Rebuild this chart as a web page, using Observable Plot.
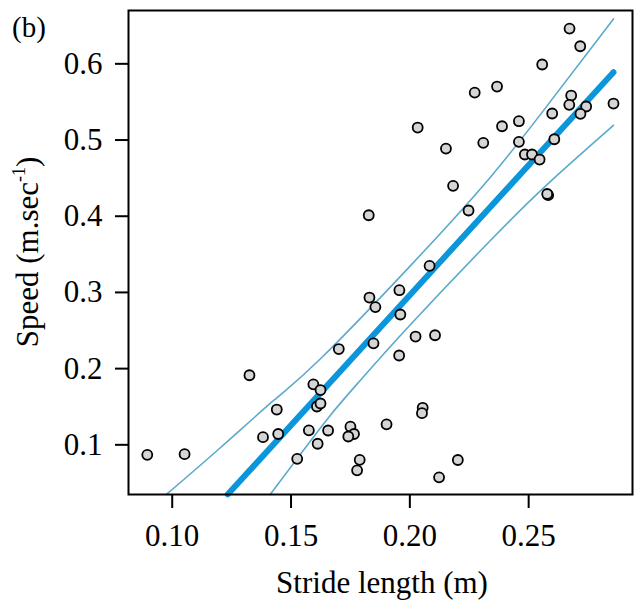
<!DOCTYPE html>
<html>
<head>
<meta charset="utf-8">
<script src="https://cdn.jsdelivr.net/npm/d3@7"></script>
<script src="https://cdn.jsdelivr.net/npm/@observablehq/plot@0.6"></script>
<style>
  html, body { margin: 0; padding: 0; background: #fff; }
  svg { display: block; }
</style>
</head>
<body>
<div id="chart"></div>
<script>
// Observed points
const stride = [0.0895,0.1052,0.1325,0.1440,0.1382,0.1446,0.1526,0.1575,0.1594,0.1624,
  0.1609,0.1624,0.1612,0.1656,0.1701,0.1750,0.1765,0.1741,0.1789,0.1778,
  0.1847,0.1855,0.1830,0.1827,0.1956,0.1960,0.1955,0.1902,0.2024,0.2106,
  0.2054,0.2051,0.2123,0.2202,0.2083,0.2182,0.2247,0.2033,0.2152,0.2273,
  0.2367,0.2309,0.2388,0.2459,0.2459,0.2484,0.2514,0.2546,0.2582,0.2578,
  0.2608,0.2599,0.2557,0.2672,0.2717,0.2679,0.2671,0.2742,0.2718,0.2857];
const speed = [0.0869,0.0877,0.1913,0.1463,0.1100,0.1142,0.0816,0.1190,0.1794,0.1719,
  0.1503,0.1542,0.1014,0.1188,0.2257,0.1238,0.1142,0.1109,0.0803,0.0665,
  0.2332,0.2808,0.2933,0.4013,0.3029,0.2710,0.2172,0.1269,0.2421,0.2438,
  0.1486,0.1415,0.0573,0.0801,0.3349,0.4399,0.4075,0.5164,0.4888,0.5623,
  0.5702,0.4963,0.5181,0.5247,0.4976,0.4810,0.4810,0.4744,0.4276,0.4292,
  0.5010,0.5348,0.5991,0.6463,0.6231,0.5584,0.5462,0.5440,0.5344,0.5479];

// Fitted line
const fitX = [0.1234, 0.2857];
const fitY = [0.035, 0.589];

// Confidence curves
const upperX = [0.0976, 0.1200, 0.1427, 0.1624, 0.2002, 0.2339, 0.2591, 0.2857];
const upperY = [0.035, 0.0955, 0.1582, 0.2129, 0.3349, 0.4512, 0.5504, 0.6590];
const lowerX = [0.1413, 0.1540, 0.1665, 0.1791, 0.2002, 0.2339, 0.2591, 0.2857];
const lowerY = [0.035, 0.0878, 0.1386, 0.1844, 0.2575, 0.3682, 0.4454, 0.5193];

// Axis ticks
const xTicks = [0.10, 0.15, 0.20, 0.25];
const yTicks = [0.1, 0.2, 0.3, 0.4, 0.5, 0.6];

const pts = stride.map((s, i) => ({x: s, y: speed[i]}));
const fit = fitX.map((x, i) => ({x, y: fitY[i]}));
const upper = upperX.map((x, i) => ({x, y: upperY[i]}));
const lower = lowerX.map((x, i) => ({x, y: lowerY[i]}));

const FONT = "'Liberation Serif', 'Times New Roman', serif";
const FS = 31;

const svg = Plot.plot({
  width: 634,
  height: 613,
  marginLeft: 128,
  marginRight: 2,
  marginTop: 10,
  marginBottom: 119,
  style: {fontFamily: FONT, background: "white", color: "black"},
  x: {domain: [0.0816, 0.2937], ticks: xTicks, tickFormat: d3.format(".2f")},
  y: {domain: [0.0348, 0.670], ticks: yTicks, tickFormat: d3.format(".1f")},
  marks: [
    Plot.line(upper, {x: "x", y: "y", stroke: "#5aaacb", strokeWidth: 1.6, curve: "natural"}),
    Plot.line(lower, {x: "x", y: "y", stroke: "#5aaacb", strokeWidth: 1.6, curve: "natural"}),
    Plot.line(fit, {x: "x", y: "y", stroke: "#0b96db", strokeWidth: 6, strokeLinecap: "round"}),
    Plot.dot(pts, {x: "x", y: "y", r: 5, fill: "#d5d5d5", stroke: "black", strokeWidth: 1.8}),
    Plot.frame({stroke: "black", strokeWidth: 2}),
    Plot.axisX({ticks: xTicks, tickFormat: d3.format(".2f"), tickSize: 14, tickPadding: 15,
      fontSize: FS, strokeWidth: 2, label: null}),
    Plot.axisY({ticks: yTicks, tickFormat: d3.format(".1f"), tickSize: 13, tickPadding: 13,
      fontSize: FS, strokeWidth: 2, label: null})
  ]
});

const s = d3.select(svg);
s.append("text")
  .attr("x", 382).attr("y", 593)
  .attr("text-anchor", "middle")
  .attr("font-family", FONT).attr("font-size", FS).attr("fill", "black")
  .text("Stride length (m)");

const yl = s.append("text")
  .attr("transform", "translate(38,252) rotate(-90)")
  .attr("text-anchor", "middle")
  .attr("font-family", FONT).attr("font-size", FS).attr("fill", "black");
yl.append("tspan").text("Speed (m.sec");
yl.append("tspan").attr("font-size", 18).attr("dy", -13).text("-1");
yl.append("tspan").attr("dy", 13).text(")");

s.append("text")
  .attr("x", 12).attr("y", 37)
  .attr("text-anchor", "start")
  .attr("font-family", FONT).attr("font-size", 29).attr("fill", "black")
  .text("(b)");

document.getElementById("chart").appendChild(svg);
</script>
</body>
</html>
